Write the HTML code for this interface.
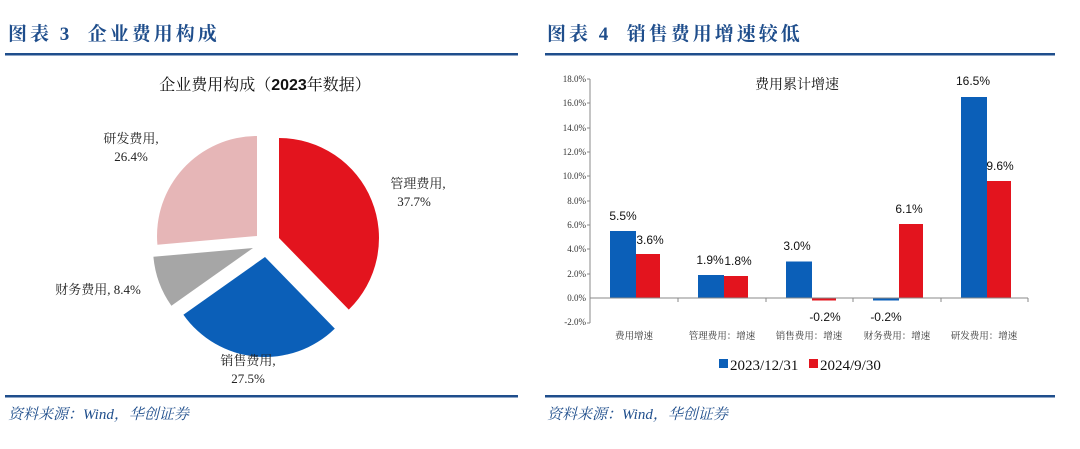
<!DOCTYPE html>
<html><head><meta charset="utf-8"><style>
body{margin:0;width:1080px;height:449px;background:#fff;overflow:hidden;font-family:"Liberation Serif","Noto Serif CJK SC",serif;}
svg{position:absolute;left:0;top:0}
</style></head><body>
<svg width="1080" height="449" viewBox="0 0 1080 449">
<!-- headers -->
<g font-family="'Liberation Serif','Noto Serif CJK SC',serif" font-weight="bold" fill="#1f4e8c" font-size="19" letter-spacing="3">
<text x="8" y="40">图表 3 &#160;企业费用构成</text>
<text x="547" y="40">图表 4 &#160;销售费用增速较低</text>
</g>
<rect x="5" y="53" width="513" height="2.5" fill="#1f4e8c"/>
<rect x="545" y="53" width="510" height="2.5" fill="#1f4e8c"/>
<rect x="5" y="395" width="513" height="2.5" fill="#1f4e8c"/>
<rect x="545" y="395" width="510" height="2.5" fill="#1f4e8c"/>
<g font-family="'Liberation Serif','Noto Serif CJK SC',serif" font-style="italic" fill="#1f4e8c" font-size="15">
<text x="8" y="419">资料来源：Wind，华创证券</text>
<text x="547" y="419">资料来源：Wind，华创证券</text>
</g>

<!-- pie -->
<text x="265" y="90" text-anchor="middle" font-size="16" fill="#111">企业费用构成（<tspan font-weight="bold" font-family="'Liberation Sans',sans-serif">2023</tspan>年数据）</text>
<path d="M279,238 L279,138 A100,100 0 0 1 348.8,309.6 Z" fill="#e3141e"/>
<path d="M265,257 L334.8,328.6 A100,100 0 0 1 183.4,314.8 Z" fill="#0b5fb8"/>
<path d="M253,248 L171.4,305.8 A100,100 0 0 1 153.4,256.8 Z" fill="#a6a6a6"/>
<path d="M257,236 L157.4,244.8 A100,100 0 0 1 257,136 Z" fill="#e6b6b7"/>
<g font-size="13" fill="#222" text-anchor="middle">
<text x="131" y="143">研发费用,</text><text x="131" y="161">26.4%</text>
<text x="418" y="188">管理费用,</text><text x="414" y="206">37.7%</text>
<text x="98" y="294">财务费用, 8.4%</text>
<text x="248" y="365">销售费用,</text><text x="248" y="383">27.5%</text>
</g>

<!-- bar chart -->
<text x="797" y="89" text-anchor="middle" font-size="14" fill="#111">费用累计增速</text>
<g font-size="9" fill="#333" text-anchor="end">
<text x="586" y="82">18.0%</text><text x="586" y="106">16.0%</text><text x="586" y="131">14.0%</text>
<text x="586" y="155">12.0%</text><text x="586" y="179">10.0%</text><text x="586" y="204">8.0%</text>
<text x="586" y="228">6.0%</text><text x="586" y="252">4.0%</text><text x="586" y="277">2.0%</text>
<text x="586" y="301">0.0%</text><text x="586" y="325">-2.0%</text>
</g>
<line x1="590" y1="79" x2="590" y2="323" stroke="#888" stroke-width="1"/>
<g stroke="#888">
<line x1="587" y1="79" x2="590" y2="79"/><line x1="587" y1="103" x2="590" y2="103"/><line x1="587" y1="128" x2="590" y2="128"/>
<line x1="587" y1="152" x2="590" y2="152"/><line x1="587" y1="176" x2="590" y2="176"/><line x1="587" y1="201" x2="590" y2="201"/>
<line x1="587" y1="225" x2="590" y2="225"/><line x1="587" y1="249" x2="590" y2="249"/><line x1="587" y1="274" x2="590" y2="274"/>
<line x1="587" y1="323" x2="590" y2="323"/>
<line x1="678" y1="298" x2="678" y2="302"/><line x1="766" y1="298" x2="766" y2="302"/><line x1="853" y1="298" x2="853" y2="302"/>
<line x1="941" y1="298" x2="941" y2="302"/><line x1="1028" y1="298" x2="1028" y2="302"/>
</g>
<g fill="#0b5fb8">
<rect x="610" y="231" width="26" height="67"/>
<rect x="698" y="275" width="26" height="23"/>
<rect x="786" y="261.5" width="26" height="36.5"/>
<rect x="873" y="298" width="26" height="2.5"/>
<rect x="961" y="97" width="26" height="201"/>
</g>
<g fill="#e3141e">
<rect x="636" y="254" width="24" height="44"/>
<rect x="724" y="276" width="24" height="22"/>
<rect x="812" y="298" width="24" height="2.5"/>
<rect x="899" y="224" width="24" height="74"/>
<rect x="987" y="181" width="24" height="117"/>
</g>
<line x1="590" y1="298" x2="1028" y2="298" stroke="#888"/>
<g font-family="'Liberation Sans',sans-serif" font-size="12" fill="#111" text-anchor="middle">
<text x="623" y="220">5.5%</text><text x="650" y="244">3.6%</text>
<text x="710" y="264">1.9%</text><text x="738" y="265">1.8%</text>
<text x="797" y="250">3.0%</text><text x="825" y="321">-0.2%</text>
<text x="886" y="321">-0.2%</text><text x="909" y="213">6.1%</text>
<text x="973" y="85">16.5%</text><text x="1000" y="170">9.6%</text>
</g>
<g font-size="9.5" fill="#333" text-anchor="middle">
<text x="634" y="339">费用增速</text>
<text x="722" y="339">管理费用：增速</text>
<text x="809" y="339">销售费用：增速</text>
<text x="897" y="339">财务费用：增速</text>
<text x="984" y="339">研发费用：增速</text>
</g>
<rect x="719" y="359" width="9" height="9" fill="#0b5fb8"/>
<text x="730" y="370" font-size="15" fill="#111">2023/12/31</text>
<rect x="809" y="359" width="9" height="9" fill="#e3141e"/>
<text x="820" y="370" font-size="15" fill="#111">2024/9/30</text>
</svg>
</body></html>
